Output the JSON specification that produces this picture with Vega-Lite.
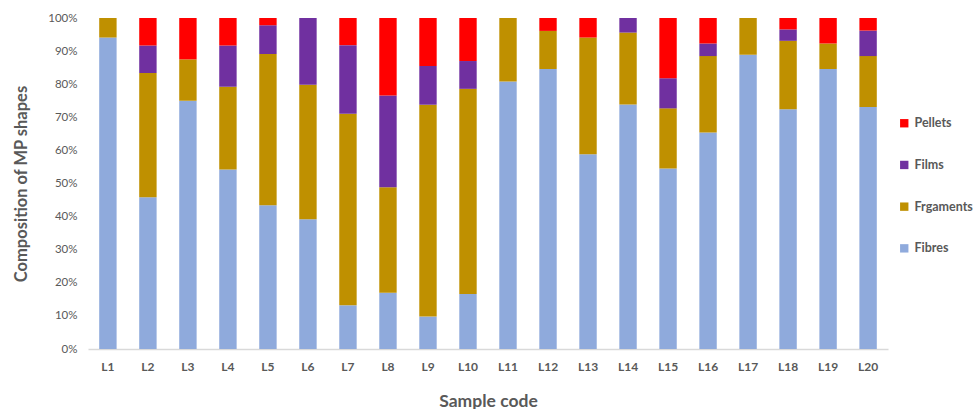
{
  "$schema": "https://vega.github.io/schema/vega-lite/v6.json",
  "autosize": "none",
  "width": 800,
  "height": 331,
  "padding": {"left": 88, "top": 18, "right": 86, "bottom": 60},
  "background": "white",
  "config": {
    "font": "Lato",
    "view": {"stroke": null}
  },
  "datasets": {
    "shapeOrder": [
      {"shape": "Fibres", "stackRank": 1},
      {"shape": "Frgaments", "stackRank": 2},
      {"shape": "Films", "stackRank": 3},
      {"shape": "Pellets", "stackRank": 4}
    ]
  },
  "data": {
    "values": [
      {"sample": "L1", "shape": "Fibres", "pct": 94.1},
      {"sample": "L1", "shape": "Frgaments", "pct": 5.9},
      {"sample": "L2", "shape": "Fibres", "pct": 45.8},
      {"sample": "L2", "shape": "Frgaments", "pct": 37.5},
      {"sample": "L2", "shape": "Films", "pct": 8.3},
      {"sample": "L2", "shape": "Pellets", "pct": 8.3},
      {"sample": "L3", "shape": "Fibres", "pct": 75.0},
      {"sample": "L3", "shape": "Frgaments", "pct": 12.5},
      {"sample": "L3", "shape": "Pellets", "pct": 12.5},
      {"sample": "L4", "shape": "Fibres", "pct": 54.2},
      {"sample": "L4", "shape": "Frgaments", "pct": 25.0},
      {"sample": "L4", "shape": "Films", "pct": 12.5},
      {"sample": "L4", "shape": "Pellets", "pct": 8.3},
      {"sample": "L5", "shape": "Fibres", "pct": 43.5},
      {"sample": "L5", "shape": "Frgaments", "pct": 45.7},
      {"sample": "L5", "shape": "Films", "pct": 8.7},
      {"sample": "L5", "shape": "Pellets", "pct": 2.2},
      {"sample": "L6", "shape": "Fibres", "pct": 39.2},
      {"sample": "L6", "shape": "Frgaments", "pct": 40.6},
      {"sample": "L6", "shape": "Films", "pct": 20.2},
      {"sample": "L7", "shape": "Fibres", "pct": 13.2},
      {"sample": "L7", "shape": "Frgaments", "pct": 57.9},
      {"sample": "L7", "shape": "Films", "pct": 20.7},
      {"sample": "L7", "shape": "Pellets", "pct": 8.2},
      {"sample": "L8", "shape": "Fibres", "pct": 17.0},
      {"sample": "L8", "shape": "Frgaments", "pct": 31.9},
      {"sample": "L8", "shape": "Films", "pct": 27.7},
      {"sample": "L8", "shape": "Pellets", "pct": 23.4},
      {"sample": "L9", "shape": "Fibres", "pct": 9.8},
      {"sample": "L9", "shape": "Frgaments", "pct": 64.0},
      {"sample": "L9", "shape": "Films", "pct": 11.7},
      {"sample": "L9", "shape": "Pellets", "pct": 14.5},
      {"sample": "L10", "shape": "Fibres", "pct": 16.6},
      {"sample": "L10", "shape": "Frgaments", "pct": 62.0},
      {"sample": "L10", "shape": "Films", "pct": 8.4},
      {"sample": "L10", "shape": "Pellets", "pct": 13.0},
      {"sample": "L11", "shape": "Fibres", "pct": 80.8},
      {"sample": "L11", "shape": "Frgaments", "pct": 19.2},
      {"sample": "L12", "shape": "Fibres", "pct": 84.6},
      {"sample": "L12", "shape": "Frgaments", "pct": 11.5},
      {"sample": "L12", "shape": "Pellets", "pct": 3.9},
      {"sample": "L13", "shape": "Fibres", "pct": 58.8},
      {"sample": "L13", "shape": "Frgaments", "pct": 35.3},
      {"sample": "L13", "shape": "Pellets", "pct": 5.9},
      {"sample": "L14", "shape": "Fibres", "pct": 73.9},
      {"sample": "L14", "shape": "Frgaments", "pct": 21.7},
      {"sample": "L14", "shape": "Films", "pct": 4.4},
      {"sample": "L15", "shape": "Fibres", "pct": 54.5},
      {"sample": "L15", "shape": "Frgaments", "pct": 18.2},
      {"sample": "L15", "shape": "Films", "pct": 9.1},
      {"sample": "L15", "shape": "Pellets", "pct": 18.2},
      {"sample": "L16", "shape": "Fibres", "pct": 65.4},
      {"sample": "L16", "shape": "Frgaments", "pct": 23.1},
      {"sample": "L16", "shape": "Films", "pct": 3.8},
      {"sample": "L16", "shape": "Pellets", "pct": 7.7},
      {"sample": "L17", "shape": "Fibres", "pct": 88.9},
      {"sample": "L17", "shape": "Frgaments", "pct": 11.1},
      {"sample": "L18", "shape": "Fibres", "pct": 72.4},
      {"sample": "L18", "shape": "Frgaments", "pct": 20.7},
      {"sample": "L18", "shape": "Films", "pct": 3.45},
      {"sample": "L18", "shape": "Pellets", "pct": 3.45},
      {"sample": "L19", "shape": "Fibres", "pct": 84.6},
      {"sample": "L19", "shape": "Frgaments", "pct": 7.7},
      {"sample": "L19", "shape": "Pellets", "pct": 7.7},
      {"sample": "L20", "shape": "Fibres", "pct": 73.1},
      {"sample": "L20", "shape": "Frgaments", "pct": 15.4},
      {"sample": "L20", "shape": "Films", "pct": 7.7},
      {"sample": "L20", "shape": "Pellets", "pct": 3.8}
    ]
  },
  "transform": [
    {
      "lookup": "shape",
      "from": {"data": {"name": "shapeOrder"}, "key": "shape", "fields": ["stackRank"]}
    }
  ],
  "mark": {"type": "bar"},
  "encoding": {
    "x": {
      "field": "sample",
      "type": "nominal",
      "sort": null,
      "scale": {"paddingInner": 0.565, "paddingOuter": 0.28},
      "axis": {
        "title": "Sample code",
        "titleFontSize": 17.5,
        "titleFontWeight": "bold",
        "titleColor": "#595959",
        "titlePadding": 20,
        "labelAngle": 0,
        "labelFontSize": 12,
        "labelFontWeight": "bold",
        "labelColor": "#595959",
        "labelPadding": 12,
        "ticks": false,
        "domainColor": "#d9d9d9",
        "domainWidth": 1.5,
        "grid": false
      }
    },
    "y": {
      "field": "pct",
      "type": "quantitative",
      "stack": "normalize",
      "scale": {"domain": [0, 1], "nice": false},
      "axis": {
        "title": "Composition of MP shapes",
        "titleFontSize": 16.5,
        "titleFontWeight": "bold",
        "titleColor": "#595959",
        "titlePadding": 18,
        "values": [0, 0.1, 0.2, 0.3, 0.4, 0.5, 0.6, 0.7, 0.8, 0.9, 1],
        "format": ".0%",
        "labelFontSize": 11.5,
        "labelColor": "#595959",
        "labelPadding": 11,
        "ticks": false,
        "domain": false,
        "grid": false
      }
    },
    "order": {"field": "stackRank", "type": "quantitative", "sort": "ascending"},
    "color": {
      "field": "shape",
      "type": "nominal",
      "sort": ["Pellets", "Films", "Frgaments", "Fibres"],
      "scale": {
        "domain": ["Pellets", "Films", "Frgaments", "Fibres"],
        "range": ["#ff0000", "#7030a0", "#bf9000", "#8faadc"]
      },
      "legend": {
        "title": null,
        "orient": "none",
        "legendX": 810,
        "legendY": 99,
        "symbolType": "square",
        "symbolSize": 70,
        "symbolStrokeWidth": 0,
        "labelFontSize": 12.5,
        "labelFontWeight": "bold",
        "labelColor": "#595959",
        "labelOffset": 4,
        "labelLimit": 200,
        "rowPadding": 28.7
      }
    }
  }
}
